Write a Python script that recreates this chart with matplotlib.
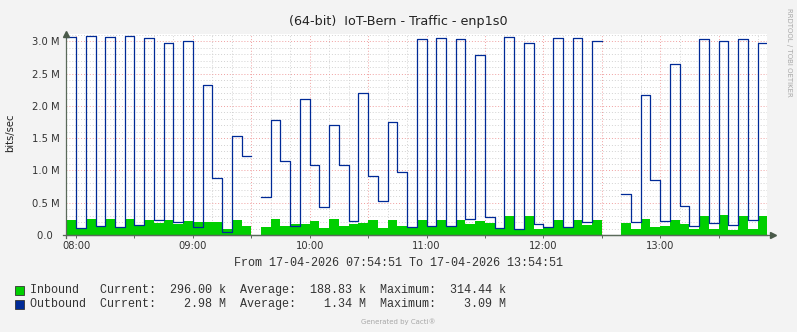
import numpy as np
import pandas as pd
import matplotlib
matplotlib.use("Agg")
import matplotlib.pyplot as plt
from matplotlib.ticker import MultipleLocator, FuncFormatter
from matplotlib.patches import Rectangle

nan = np.nan

# ---- data (5-minute steps starting 07:55) ----
step_starts = pd.date_range("2026-04-17 07:55", periods=72, freq="5min")
graph_start = pd.Timestamp("2026-04-17 07:54:51")
graph_end = pd.Timestamp("2026-04-17 13:54:51")

outbound_M = [3.075, 0.103, 3.09, 0.134, 3.075, 0.119, 3.09, 0.15, 3.06, 0.227,
              2.98, 0.196, 3.01, 0.124, 2.317, 0.877, 0.046, 1.527, 1.218, nan,
              0.583, 1.775, 1.14, 0.139, 2.105, 1.084, 0.428, 1.708, 1.084, 0.21,
              2.193, 0.913, 0.521, 1.744, 0.97, 0.124, 3.04, 0.134, 3.06, 0.134,
              3.044, 0.243, 2.797, 0.284, 0.103, 3.075, 0.088, 2.98, 0.165, 0.119,
              3.06, 0.119, 3.06, 0.196, 3.0, nan, nan, 0.635, 0.196, 2.177,
              0.846, 0.212, 2.657, 0.444, 0.134, 3.044, 0.181, 3.0, 0.15, 3.044,
              0.227, 2.98]

inbound_M = [0.227, 0.10, 0.248, 0.13, 0.248, 0.115, 0.248, 0.145, 0.232, 0.18,
             0.232, 0.17, 0.217, 0.20, 0.20, 0.20, 0.093, 0.232, 0.139, nan,
             0.124, 0.248, 0.139, 0.165, 0.17, 0.217, 0.108, 0.248, 0.139, 0.17,
             0.186, 0.232, 0.108, 0.232, 0.139, 0.124, 0.232, 0.12, 0.232, 0.12,
             0.232, 0.165, 0.217, 0.19, 0.09, 0.294, 0.08, 0.294, 0.10, 0.11,
             0.232, 0.11, 0.232, 0.155, 0.232, nan, nan, 0.186, 0.093, 0.248,
             0.124, 0.139, 0.232, 0.17, 0.093, 0.294, 0.093, 0.31, 0.077, 0.294,
             0.093, 0.296]

x_tick_labels = ["08:00", "09:00", "10:00", "11:00", "12:00", "13:00"]
y_tick_labels = ["0.0  ", "0.5 M", "1.0 M", "1.5 M", "2.0 M", "2.5 M", "3.0 M"]

title = "(64-bit)  IoT-Bern - Traffic - enp1s0"
period = "From 17-04-2026 07:54:51 To 17-04-2026 13:54:51"
legend_rows = [
    ("#00CF00", "Inbound   Current:  296.00 k  Average:  188.83 k  Maximum:  314.44 k"),
    ("#002A97", "Outbound  Current:    2.98 M  Average:    1.34 M  Maximum:    3.09 M"),
]

# ---- geometry helpers ----
ref = pd.Timestamp("2026-04-17 08:00")
def minutes(ts):
    return (ts - ref).total_seconds() / 60.0

starts = np.array([minutes(t) for t in step_starts])
edges = np.append(starts, starts[-1] + 5)
edges[0] = minutes(graph_start)  # first partial step reaches graph start

def step_xy(vals):
    v = np.array(vals, dtype=float) * 1e6
    xx = np.repeat(edges, 2)[1:-1]
    yy = np.repeat(v, 2)
    return xx, yy

W, H = 797, 332
fig = plt.figure(figsize=(W / 100, H / 100), dpi=100)
fig.patch.set_facecolor("#F3F3F3")

L, R, B, T = 66, 767, 235, 34
ax = fig.add_axes([L / W, 1 - B / H, (R - L) / W, (B - T) / H])
ax.set_facecolor("white")

ax.set_xlim(minutes(graph_start), minutes(graph_end))
ax.set_ylim(0, 3.115e6)

# grid
ax.xaxis.set_major_locator(MultipleLocator(30))
ax.xaxis.set_minor_locator(MultipleLocator(10))
ax.yaxis.set_major_locator(MultipleLocator(0.5e6))
ax.yaxis.set_minor_locator(MultipleLocator(0.1e6))

def xfmt(v, pos):
    i = int(round(v / 60))
    if abs(v - 60 * i) < 1e-6 and 0 <= i < len(x_tick_labels):
        return x_tick_labels[i]
    return ""
def yfmt(v, pos):
    i = int(round(v / 0.5e6))
    if 0 <= i < len(y_tick_labels):
        return y_tick_labels[i]
    return ""
ax.xaxis.set_major_formatter(FuncFormatter(xfmt))
ax.yaxis.set_major_formatter(FuncFormatter(yfmt))

ax.grid(which="minor", color="#D2D2D2", linestyle=(0, (1, 2)), linewidth=0.7)
ax.grid(which="major", color="#F0A0A0", linestyle=(0, (1, 2)), linewidth=0.7)
ax.set_axisbelow(True)

# data
xi, yi = step_xy(inbound_M)
ax.fill_between(xi, 0, yi, color="#00CF00", linewidth=0, zorder=2)
xo, yo = step_xy(outbound_M)
ax.plot(xo, yo, color="#002A97", linewidth=0.9, zorder=3)

# axes look
for s in ["top", "right"]:
    ax.spines[s].set_visible(False)
for s in ["left", "bottom"]:
    ax.spines[s].set_color("#5A6A5A")
    ax.spines[s].set_linewidth(0.9)
ax.tick_params(which="both", colors="#5A6A5A", labelcolor="#333333",
               labelsize=7.2, direction="out")
ax.tick_params(axis="y", which="both", length=0, pad=4.8)
ax.tick_params(axis="x", which="major", length=2, width=0.7, pad=2.5)
ax.tick_params(axis="x", which="minor", length=0)

# axis overhang and arrows
ax.plot([0, 0], [0, -3 / (B - T)], color="#5A6A5A", lw=0.9, transform=ax.transAxes, clip_on=False, zorder=5)
ax.plot([-3 / (R - L), 1.0 + 6 / (R - L)], [0, 0], color="#5A6A5A", lw=0.9, transform=ax.transAxes, clip_on=False, zorder=5)
ax.plot([0], [1.0], marker="^", color="#4A5A4A", markersize=5, transform=ax.transAxes, clip_on=False, zorder=5)
ax.plot([1.0 + 6 / (R - L)], [0], marker=">", color="#4A5A4A", markersize=5, transform=ax.transAxes, clip_on=False, zorder=5)

# texts
def fy(py):
    return 1 - py / H

fig.text(398.5 / W, fy(21), title, ha="center", va="center", fontsize=9.2,
         color="#222222", family="DejaVu Sans")
fig.text(10 / W, fy(133), "bits/sec", rotation=90, ha="center", va="center",
         fontsize=7.2, color="#222222", family="DejaVu Sans")
fig.text(789 / W, fy(52), "RRDTOOL / TOBI OETIKER", rotation=270, ha="center",
         va="center", fontsize=5, color="#A8A8A8", family="DejaVu Sans")
fig.text(398 / W, fy(263), period, ha="center", va="center", fontsize=8.5,
         color="#333333", family="Liberation Mono")
for i, (col, txt) in enumerate(legend_rows):
    py = 290 + 14 * i
    fig.patches.append(Rectangle((15 / W, fy(py + 4.5)), 8.5 / W, 9 / H,
                                 transform=fig.transFigure, facecolor=col,
                                 edgecolor="#333333", linewidth=0.6))
    fig.text(30 / W, fy(py), txt, ha="left", va="center", fontsize=8.5,
             color="#333333", family="Liberation Mono")
fig.text(398 / W, fy(322), "Generated by Cacti\u00ae", ha="center", va="center",
         fontsize=5, color="#A8A8A8", family="DejaVu Sans")

fig.savefig("out.png", dpi=100, facecolor=fig.get_facecolor())
